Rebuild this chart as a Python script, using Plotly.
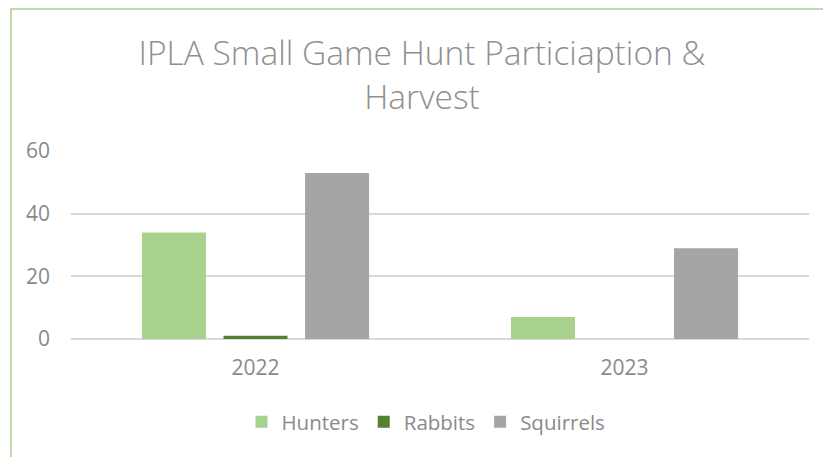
import plotly.graph_objects as go

categories = ["2022", "2023"]
hunters = [34, 7]
rabbits = [1, 0]
squirrels = [53, 29]
y_ticks = [0, 20, 40, 60]

colors = {"Hunters": "#a9d18e", "Rabbits": "#548235", "Squirrels": "#a5a5a5"}
FONT = "Open Sans"
TXT = "#8a8a8a"

fig = go.Figure()
for name, vals in [("Hunters", hunters), ("Rabbits", rabbits), ("Squirrels", squirrels)]:
    fig.add_trace(go.Bar(x=categories, y=vals, name=name, marker=dict(color=colors[name], line=dict(width=0))))

# page body has an 8px margin; sizes below are in figure pixels
W, H = 823, 449
OFF = 8
L, T = 71 - OFF, 151 - OFF
R = W - (809 - OFF)
B = H - (339 - OFF)
pw, ph = W - L - R, H - T - B

def px_x(px):
    return (px - OFF - L) / pw

def px_y(py):
    return (H - B - (py - OFF)) / ph

fig.update_layout(
    width=W, height=H,
    margin=dict(l=L, r=R, t=T, b=B),
    paper_bgcolor="white", plot_bgcolor="white",
    barmode="group", bargap=0.337, bargroupgap=0.215,
    font=dict(family=FONT, color=TXT, size=20),
    title=dict(text="IPLA Small Game Hunt Particiaption &<br>Harvest", xref="container", x=(422 - OFF) / W,
               xanchor="center", yref="container", y=1 - 57 / H, yanchor="top",
               font=dict(family=FONT, size=33.5, color="#8f8f8f", weight=300)),
    showlegend=True,
    legend=dict(orientation="h", x=px_x(426), xanchor="center", y=px_y(422), yanchor="middle",
                font=dict(size=20.5, color=TXT), itemwidth=30, tracegroupgap=0),
    xaxis=dict(showgrid=False, showline=False, ticks="", tickfont=dict(size=21, color=TXT), ticklabelstandoff=14),
    yaxis=dict(range=[0, 60], tickvals=y_ticks, showgrid=True, gridcolor="#d9d9d9", gridwidth=1.5,
               zeroline=True, zerolinecolor="#d9d9d9", zerolinewidth=1.5, showline=False,
               tickfont=dict(size=21, color=TXT), ticklabelstandoff=20),
    shapes=[dict(type="rect", xref="paper", yref="paper", x0=px_x(11), x1=px_x(900), y0=px_y(520), y1=px_y(9),
                 line=dict(color="#a9d18e", width=1.5), fillcolor="rgba(0,0,0,0)", layer="below")],
)

fig.write_html("out.html")
